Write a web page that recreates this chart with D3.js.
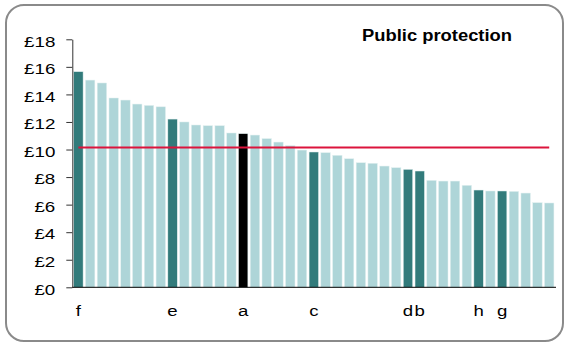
<!DOCTYPE html>
<html><head><meta charset="utf-8">
<script src="https://cdn.jsdelivr.net/npm/d3@7"></script>
<style>body{margin:0;background:#fff;} svg{display:block;}</style>
</head><body>
<svg id="chart" width="565" height="343"></svg>
<script>
const title = "Public protection";
const categories = ["f","","","","","","","","e","","","","","","a","","","","","","c","","","","","","","","d","b","","","","","h","","g","","","",""];
const values = [15.65,15.04,14.83,13.74,13.59,13.30,13.20,13.10,12.21,12.00,11.78,11.73,11.73,11.20,11.15,11.05,10.79,10.54,10.28,9.96,9.82,9.77,9.58,9.33,9.04,9.00,8.80,8.68,8.56,8.44,7.76,7.71,7.71,7.40,7.06,6.99,6.99,6.96,6.84,6.14,6.12];
const average = 10.14;
const focus = "a";
const yTicks = [0,2,4,6,8,10,12,14,16,18];

const svg = d3.select("#chart");
const font = "'Liberation Sans', Arial, sans-serif";

svg.append("rect").attr("x",6).attr("y",5).attr("width",557).attr("height",336)
  .attr("rx",18).attr("fill","#fff").attr("stroke","#8a8a8a").attr("stroke-width",2);

const idx = d3.range(values.length);
const x = d3.scaleBand().domain(idx).range([72.5, 555.1]).paddingInner(0.2).paddingOuter(0.1);
const y = d3.scaleLinear().domain([0,18]).range([287.3, 39.3]);

svg.selectAll("rect.bar").data(idx).join("rect").attr("class","bar")
  .attr("x", i => x(i)).attr("width", x.bandwidth())
  .attr("y", i => y(values[i])).attr("height", i => y(0) - y(values[i]))
  .attr("fill", i => categories[i] === focus ? "#000000" : (categories[i] ? "#327b7b" : "#aed5d8"))
  .attr("stroke", "#e2f0f0").attr("stroke-width", 0.5);

// average line
svg.append("line")
  .attr("x1", x(0) + x.bandwidth()/2).attr("x2", x(values.length-1) + x.bandwidth()/2)
  .attr("y1", y(average)).attr("y2", y(average))
  .attr("stroke", "#dc143c").attr("stroke-width", 2);

// y axis
const yAxis = d3.axisLeft(y).tickValues(yTicks).tickFormat(d => "£" + d)
  .tickSize(6).tickSizeOuter(0).tickPadding(11);
const gy = svg.append("g").attr("transform","translate(72.3,0)").call(yAxis);
gy.select(".domain").attr("stroke","#333");
gy.selectAll(".tick line").attr("stroke","#333");
gy.selectAll(".tick text").attr("font-family",font).attr("font-size",15).attr("fill","#000").attr("dy","0.45em")
  .each(function(){ const w=this.getComputedTextLength(); d3.select(this).attr("textLength", w*1.25).attr("lengthAdjust","spacingAndGlyphs"); });

// x axis line
svg.append("line").attr("x1",72.3).attr("x2",556).attr("y1",y(0)).attr("y2",y(0)).attr("stroke","#000").attr("stroke-width",1);

// x labels
svg.selectAll("text.xl").data(idx.filter(i => categories[i])).join("text").attr("class","xl")
  .attr("x", i => x(i) + x.bandwidth()/2).attr("y", 316)
  .attr("text-anchor","middle").attr("font-family",font).attr("font-size",15.5).attr("fill","#000")
  .text(i => categories[i])
  .each(function(){ const w=this.getComputedTextLength(); d3.select(this).attr("textLength", w*1.2).attr("lengthAdjust","spacingAndGlyphs"); });

// title
svg.append("text").attr("x",362).attr("y",41).attr("font-family",font).attr("font-weight","bold")
  .attr("font-size",16).attr("fill","#000").text(title)
  .attr("textLength",150).attr("lengthAdjust","spacingAndGlyphs");
</script>
</body></html>
